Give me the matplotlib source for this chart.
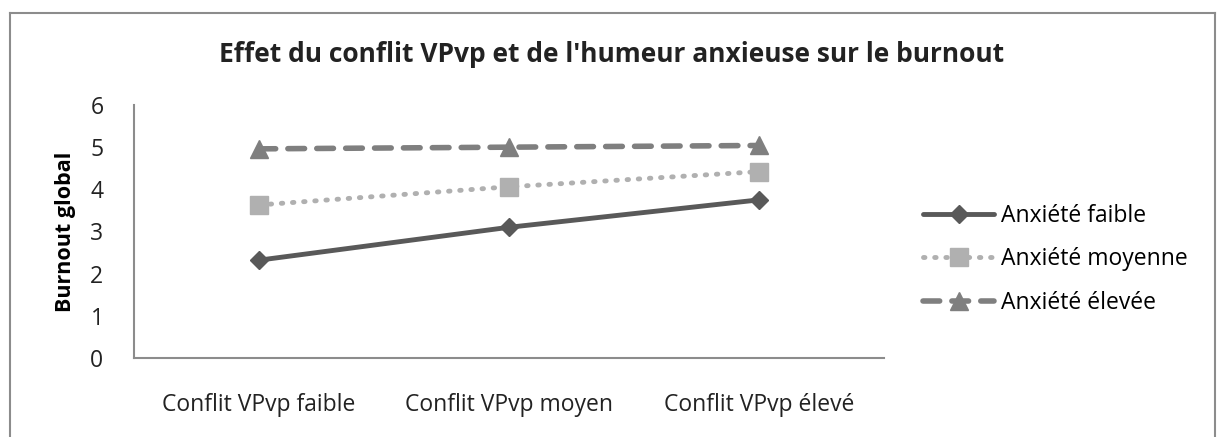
import matplotlib.pyplot as plt
from matplotlib.lines import Line2D

plt.rcParams['font.family'] = ['Open Sans', 'DejaVu Sans']

categories = ["Conflit VPvp faible", "Conflit VPvp moyen", "Conflit VPvp élevé"]
anxiete_faible = [2.32, 3.10, 3.75]
anxiete_moyenne = [3.63, 4.06, 4.42]
anxiete_elevee = [4.96, 5.00, 5.04]
series_labels = ["Anxiété faible", "Anxiété moyenne", "Anxiété élevée"]
yticks = [0, 1, 2, 3, 4, 5, 6]

W, H = 1223, 437
fig = plt.figure(figsize=(W / 100, H / 100), dpi=100)

# outer frame of the chart (bottom edge is cut off in the reference)
frame_col = "#8c8c8c"
fig.add_artist(Line2D([10 / W, 10 / W], [0, 1 - 13 / H], color=frame_col, lw=1.5))
fig.add_artist(Line2D([10 / W, 1215 / W], [1 - 13 / H, 1 - 13 / H], color=frame_col, lw=1.5))
fig.add_artist(Line2D([1215 / W, 1215 / W], [0, 1 - 13 / H], color=frame_col, lw=1.5))

x0, x1 = 134, 884
y_top, y_bot = 105, 358
ax = fig.add_axes([x0 / W, 1 - y_bot / H, (x1 - x0) / W, (y_bot - y_top) / H])

xs = [0.5, 1.5, 2.5]
ax.plot(xs, anxiete_faible, color="#595959", lw=3.5, marker="D", ms=9,
        label=series_labels[0], solid_capstyle="round")
ax.plot(xs, anxiete_moyenne, color="#b0b0b0", lw=3.5, ls=(0, (0.3, 2)), marker="s", ms=13,
        label=series_labels[1], dash_capstyle="round")
ax.plot(xs, anxiete_elevee, color="#7f7f7f", lw=4, ls=(0, (3, 2.2)), marker="^", ms=13,
        label=series_labels[2], dash_capstyle="round")

ax.set_xlim(0, 3)
ax.set_ylim(0, 6)
ax.set_xticks(xs)
ax.set_xticklabels(categories, fontsize=16.5, color="#222222")
ax.set_yticks(yticks)
ax.set_yticklabels([str(v) for v in yticks], fontsize=16.5, color="#222222")
ax.tick_params(axis="both", length=0)
ax.tick_params(axis="x", pad=25)
ax.tick_params(axis="y", pad=22)
for side in ["top", "right"]:
    ax.spines[side].set_visible(False)
for side in ["left", "bottom"]:
    ax.spines[side].set_color("#8c8c8c")
    ax.spines[side].set_linewidth(1.5)

ax.set_ylabel("Burnout global", fontsize=15.5, fontweight="bold", labelpad=10)

fig.text(0.5, 1 - 55 / H, "Effet du conflit VPvp et de l'humeur anxieuse sur le burnout",
         ha="center", va="center", fontsize=19, fontweight="bold", color="#222222")

leg = ax.legend(loc="center left", bbox_to_anchor=(1.025, 0.39), frameon=False,
                fontsize=16.5, handlelength=3.1, labelspacing=0.85, handletextpad=0.3)

fig.savefig("out.png", dpi=100)
